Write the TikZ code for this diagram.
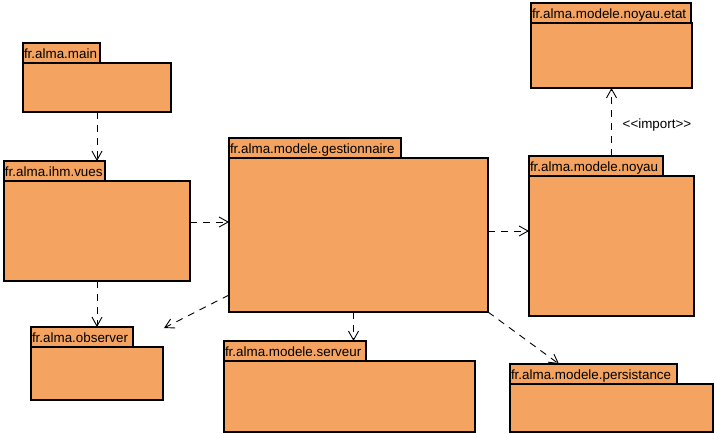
\documentclass[tikz,border=0pt]{standalone}
\usepackage{fontspec}
\setmainfont{Liberation Sans}
\usetikzlibrary{calc,arrows.meta}
\definecolor{pkg}{RGB}{244,164,96}
\begin{document}
\begin{tikzpicture}[x=1pt,y=-1pt,
  body/.style={draw=black,fill=pkg,line width=2pt,anchor=north west,inner sep=0pt,outer sep=0pt},
  tab/.style={draw=black,fill=pkg,line width=2pt,anchor=south west,inner xsep=1pt,inner ysep=0pt,outer sep=0pt,
    text height=15.5pt,text depth=4.5pt,align=left,font=\fontsize{13.4}{14}\selectfont},
  dep/.style={line width=0.9pt,dash pattern=on 7pt off 6pt,-{Straight Barb[length=9pt,width=10pt,line width=0.9pt]}},
  lbl/.style={inner sep=0pt,font=\fontsize{13.4}{14}\selectfont}]
\useasboundingbox (0,0) rectangle (716,434);
% packages: tab + body
\node[body,minimum width=148pt,minimum height=49pt] (main) at (23,63) {};
\node[tab,text width=75pt] (mainT) at (23,63) {fr.alma.main};
\node[body,minimum width=186pt,minimum height=100pt] (ihm) at (4,181) {};
\node[tab,text width=99pt] (ihmT) at (4,181) {fr.alma.ihm.vues};
\node[body,minimum width=132pt,minimum height=53pt] (obs) at (31,347) {};
\node[tab,text width=100pt] (obsT) at (31,347) {fr.alma.observer};
\node[body,minimum width=259pt,minimum height=154pt] (gest) at (229,158) {};
\node[tab,text width=170pt] (gestT) at (229,158) {fr.alma.modele.gestionnaire};
\node[body,minimum width=251pt,minimum height=71pt] (serv) at (224,361) {};
\node[tab,text width=140pt] (servT) at (224,361) {fr.alma.modele.serveur};
\node[body,minimum width=203pt,minimum height=48pt] (pers) at (510,384) {};
\node[tab,text width=165pt] (persT) at (510,384) {fr.alma.modele.persistance};
\node[body,minimum width=161pt,minimum height=65pt] (etat) at (531,23) {};
\node[tab,text width=158pt] (etatT) at (531,23) {fr.alma.modele.noyau.etat};
\node[body,minimum width=165pt,minimum height=140pt] (noy) at (529,176) {};
\node[tab,text width=132pt] (noyT) at (529,176) {fr.alma.modele.noyau};
% helper coordinates
\coordinate (c1) at ($(ihm.east)+(0,-9)$);
\coordinate (c2) at ($(gest.east)+(0,-4)$);
\coordinate (c3) at ($(gest.south west)+(0,-17)$);
\coordinate (c4) at ($(obs.north east)+(1,-19)$);
\coordinate (c5) at ($(gest.south)+(-5,0)$);
\coordinate (c6) at ($(persT.north west)+(49,0)$);
% dependencies
\draw[dep] (main.south) -- (main.south |- ihmT.north);
\draw[dep] (c1) -- (c1 -| gest.west);
\draw[dep] (c2) -- (c2 -| noy.west);
\draw[dep] (etat.south |- noyT.north) -- (etat.south);
\draw[dep] (ihm.south) -- (ihm.south |- obsT.north);
\draw[dep] (c3) -- (c4);
\draw[dep] (c5) -- (c5 |- servT.north);
\draw[dep] (gest.south east) -- (c6);
\node[lbl,anchor=west] (imp) at ($(etat.south)+(11,37)$) {<\kern0pt<import>\kern0pt>};
\end{tikzpicture}
\end{document}
